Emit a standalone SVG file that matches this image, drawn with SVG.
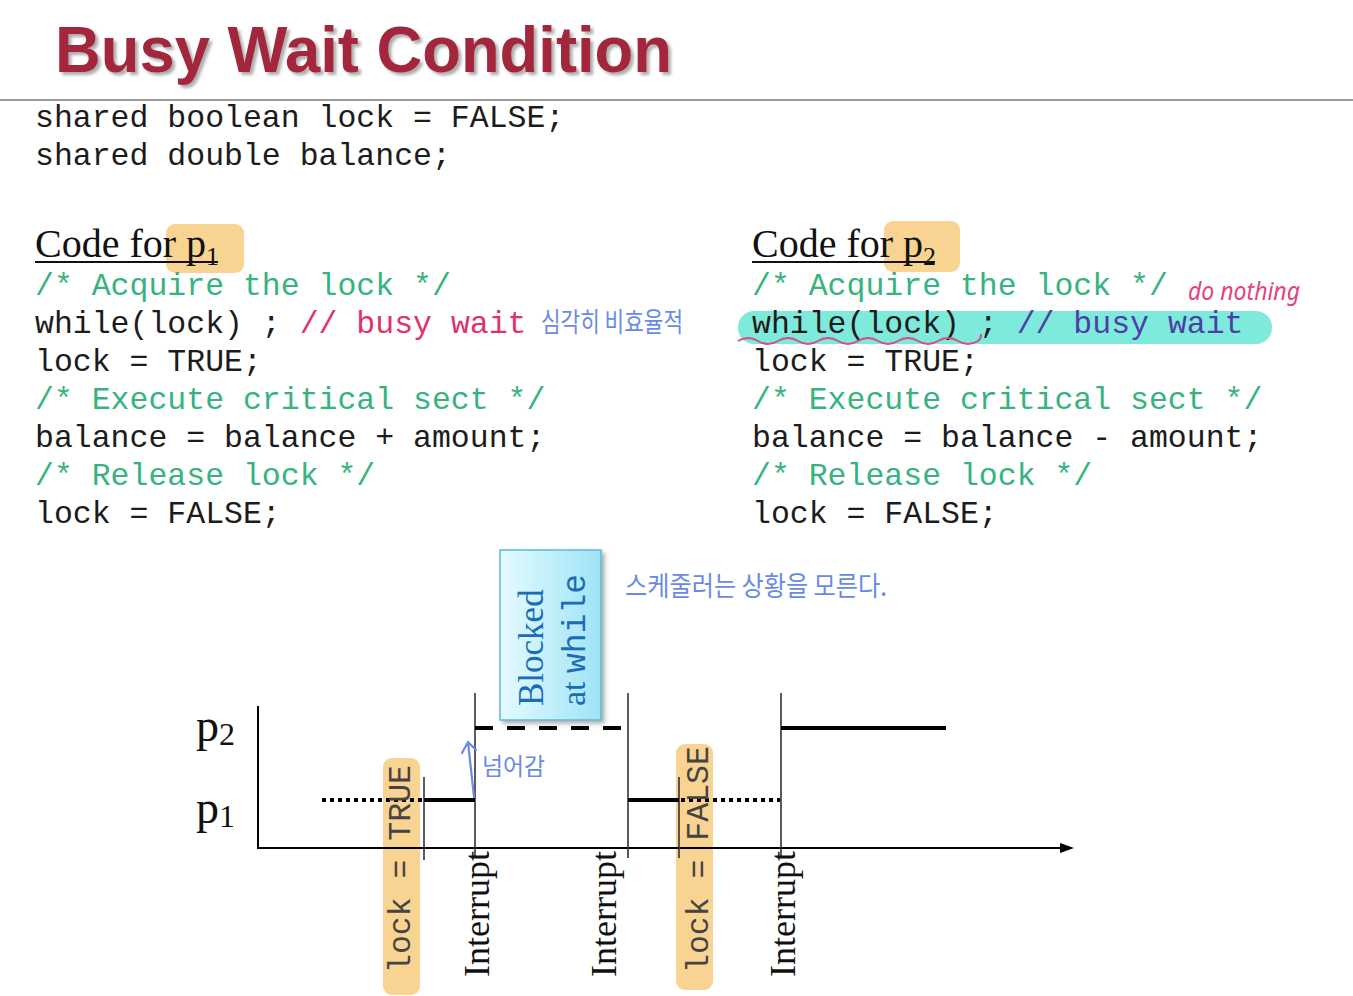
<svg xmlns="http://www.w3.org/2000/svg" width="1353" height="996" viewBox="0 0 1353 996">
<defs>
<style>
.mono{font-family:"Liberation Mono","Courier New",monospace;font-size:31.5px;fill:#1c1c1c}
.cm{fill:#36b37e}
.gr{fill:#444}
.ser{font-family:"Liberation Serif","Times New Roman",serif;fill:#111}
.blue{fill:#1c6bb5}
.hand{font-family:"Noto Sans CJK KR","Noto Sans",sans-serif;fill:#6b8ae4}
.thin{stroke:#333;stroke-width:1.6;fill:none}
.thick{stroke:#000;stroke-width:4;fill:none}
.hl{fill:#f7c46c;opacity:0.75}
</style>
<filter id="sh" x="-5%" y="-20%" width="110%" height="150%">
<feDropShadow dx="3" dy="3" stdDeviation="1.5" flood-color="#777" flood-opacity="0.6"/>
</filter>
<filter id="bsh" x="-10%" y="-10%" width="130%" height="130%">
<feDropShadow dx="3" dy="3" stdDeviation="2" flood-color="#555" flood-opacity="0.45"/>
</filter>
<linearGradient id="bg" x1="0" y1="0" x2="1" y2="0">
<stop offset="0" stop-color="#e4fbff"/>
<stop offset="1" stop-color="#9fe3f6"/>
</linearGradient>
</defs>
<rect width="1353" height="996" fill="#fff"/>

<g id="title">
<text x="55" y="72" font-family="Liberation Sans,Arial,sans-serif" font-weight="bold" font-size="64" fill="#a3283c" textLength="617" lengthAdjust="spacingAndGlyphs" filter="url(#sh)">Busy Wait Condition</text>
<line x1="0" y1="100" x2="1353" y2="100" stroke="#9a9a9a" stroke-width="2"/>
</g>

<g id="shared">
<text class="mono" x="35" y="127" xml:space="preserve">shared boolean lock = FALSE;</text>
<text class="mono" x="35" y="165" xml:space="preserve">shared double balance;</text>
</g>

<g id="code-p1">
<rect class="hl" x="166" y="224" width="78" height="49" rx="9"/>
<text class="ser" x="35" y="257" font-size="40">Code for p<tspan font-size="26" dy="8">1</tspan></text>
<line x1="35" y1="262" x2="218" y2="262" stroke="#111" stroke-width="2"/>
<text class="mono cm" x="35" y="295" xml:space="preserve">/* Acquire the lock */</text>
<text class="mono" x="35" y="333" xml:space="preserve">while(lock) ; <tspan fill="#e0306e">// busy wait</tspan></text>
<text class="mono" x="35" y="371" xml:space="preserve">lock = TRUE;</text>
<text class="mono cm" x="35" y="409" xml:space="preserve">/* Execute critical sect */</text>
<text class="mono" x="35" y="447" xml:space="preserve">balance = balance + amount;</text>
<text class="mono cm" x="35" y="485" xml:space="preserve">/* Release lock */</text>
<text class="mono" x="35" y="523" xml:space="preserve">lock = FALSE;</text>
<text class="hand" x="541" y="332" font-size="27" textLength="142" lengthAdjust="spacingAndGlyphs">심각히 비효율적</text>
</g>

<g id="code-p2">
<rect class="hl" x="884" y="221" width="76" height="51" rx="9"/>
<rect x="738" y="311" width="534" height="33" rx="16" fill="#7eeadb"/>
<text class="ser" x="752" y="257" font-size="40">Code for p<tspan font-size="26" dy="8">2</tspan></text>
<line x1="752" y1="262" x2="935" y2="262" stroke="#111" stroke-width="2"/>
<text class="mono cm" x="752" y="295" xml:space="preserve">/* Acquire the lock */</text>
<text class="mono" x="752" y="333" xml:space="preserve">while(lock) ; <tspan fill="#4d3fa6">// busy wait</tspan></text>
<text class="mono" x="752" y="371" xml:space="preserve">lock = TRUE;</text>
<text class="mono cm" x="752" y="409" xml:space="preserve">/* Execute critical sect */</text>
<text class="mono" x="752" y="447" xml:space="preserve">balance = balance - amount;</text>
<text class="mono cm" x="752" y="485" xml:space="preserve">/* Release lock */</text>
<text class="mono" x="752" y="523" xml:space="preserve">lock = FALSE;</text>
<path d="M738,341 q10,-6 20,0 t20,0 t20,0 t20,0 t20,0 t20,0 t20,0 t20,0 t20,0 t20,0 t20,0 t20,0 q3,-2 3,-7" fill="none" stroke="#d84a82" stroke-width="2"/>
<text x="1188" y="300" font-family="Noto Sans,sans-serif" font-style="italic" font-size="25" fill="#e0457f" textLength="112" lengthAdjust="spacingAndGlyphs">do nothing</text>
</g>

<g id="timeline">
<g id="highlights">
<rect class="hl" x="383" y="758" width="37" height="237" rx="9"/>
<rect class="hl" x="676" y="744" width="37" height="246" rx="9"/>
</g>
<g id="connectors">
<line x1="258" y1="706" x2="258" y2="849" stroke="#000" stroke-width="2"/>
<line x1="257" y1="848" x2="1062" y2="848" stroke="#000" stroke-width="2"/>
<polygon points="1074,848 1060,843 1060,853" fill="#000"/>
<line class="thin" x1="424" y1="777" x2="424" y2="860"/>
<line class="thin" x1="475" y1="693" x2="475" y2="856"/>
<line class="thin" x1="628" y1="693" x2="628" y2="858"/>
<line class="thin" x1="679" y1="777" x2="679" y2="858"/>
<line class="thin" x1="781" y1="693" x2="781" y2="856"/>
<line class="thick" x1="322" y1="800" x2="424" y2="800" stroke-dasharray="4 4"/>
<line class="thick" x1="424" y1="800" x2="475" y2="800"/>
<line class="thick" x1="475" y1="728" x2="621" y2="728" stroke-dasharray="18 14"/>
<line class="thick" x1="628" y1="800" x2="679" y2="800"/>
<line class="thick" x1="681" y1="800" x2="780" y2="800" stroke-dasharray="4 4"/>
<line class="thick" x1="781" y1="728" x2="946" y2="728"/>
</g>
<g id="labels">
<text class="ser" x="196" y="741" font-size="46">p<tspan font-size="32" dy="4">2</tspan></text>
<text class="ser" x="196" y="823" font-size="46">p<tspan font-size="32" dy="4">1</tspan></text>
<text class="mono gr" transform="translate(410,973) rotate(-90)" font-size="30.5" xml:space="preserve">lock = TRUE</text>
<text class="mono gr" transform="translate(708,973) rotate(-90)" font-size="30.5" xml:space="preserve">lock = FALSE</text>
<text class="ser" transform="translate(489,977) rotate(-90)" font-size="36">Interrupt</text>
<text class="ser" transform="translate(616,977) rotate(-90)" font-size="36">Interrupt</text>
<text class="ser" transform="translate(795,977) rotate(-90)" font-size="36">Interrupt</text>
</g>
<g id="blocked">
<rect x="500" y="550" width="101" height="170" fill="url(#bg)" stroke="#5db9d8" stroke-width="1.5" filter="url(#bsh)"/>
<text class="ser blue" transform="translate(543,706) rotate(-90)" font-size="35">Blocked</text>
<text class="ser blue" transform="translate(585,706) rotate(-90)" font-size="34" xml:space="preserve">at <tspan font-family="Liberation Mono,Courier New,monospace" font-size="33">while</tspan></text>
</g>
<g id="notes">
<path d="M474,797 L468,742 M462,753 L468,742 L476,750" fill="none" stroke="#6b8ae4" stroke-width="2.2" stroke-linecap="round"/>
<text class="hand" x="482" y="775" font-size="24" textLength="63" lengthAdjust="spacingAndGlyphs">넘어감</text>
<text class="hand" x="625" y="596" font-size="27" textLength="262" lengthAdjust="spacingAndGlyphs">스케줄러는 상황을 모른다.</text>
</g>
</g>
</svg>
